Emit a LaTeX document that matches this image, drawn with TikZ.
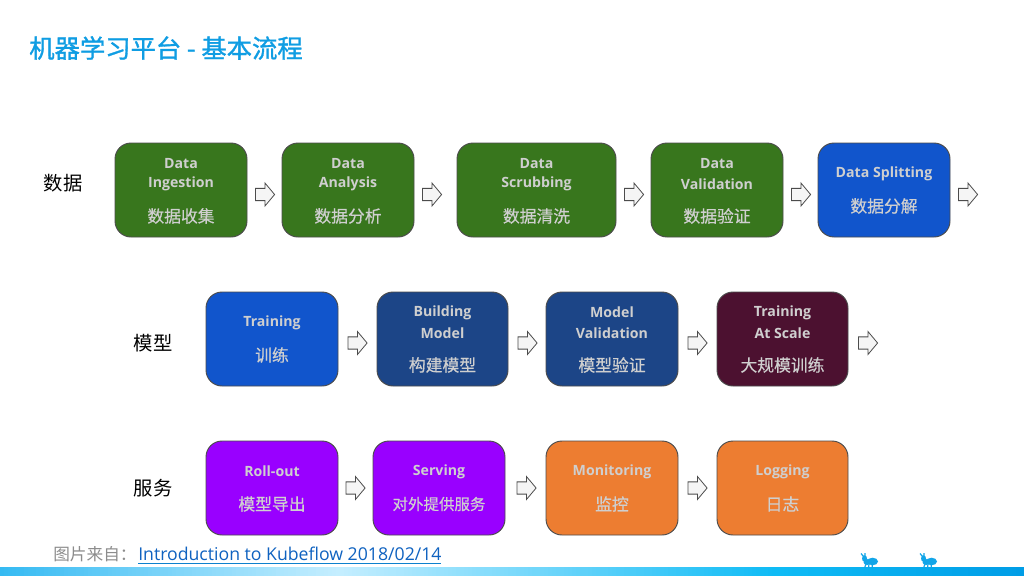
\documentclass[tikz,border=0pt]{standalone}
\usepackage{fontspec}
\setmainfont{Open Sans}
\newfontfamily\cjk{Noto Sans CJK SC}
\newfontfamily\cjkm[FakeBold=0.5]{Noto Sans CJK SC}
\newfontfamily\cjkt[FakeBold=1.2]{Noto Sans CJK SC}
\usetikzlibrary{shapes.arrows}
\definecolor{cgreen}{HTML}{38761D}
\definecolor{cblue}{HTML}{1155CC}
\definecolor{cnavy}{HTML}{1C4587}
\definecolor{cmaroon}{HTML}{4C1130}
\definecolor{cpurple}{HTML}{9900FF}
\definecolor{corange}{HTML}{ED7D31}
\definecolor{ctext}{HTML}{CFCFCF}
\definecolor{ctitle}{HTML}{0F9DE3}
\definecolor{clink}{HTML}{0F62C0}
\definecolor{cant}{HTML}{12A5E8}
\definecolor{bara}{HTML}{35BAF2}
\definecolor{barb}{HTML}{C4EEFF}
\definecolor{barc}{HTML}{0FBBF5}
\definecolor{bard}{HTML}{009DE6}
\tikzset{
  x=0.75pt,y=-0.75pt,
  boxnode/.style={draw=black!70,line width=0.7pt,rounded corners=12pt,inner sep=0pt,minimum height=70.5pt},
  entext/.style={text=ctext,font=\fontsize{10.6pt}{12pt}\selectfont\bfseries,inner sep=0pt,anchor=center},
  cntext/.style={text=ctext,font=\fontsize{12.6pt}{14pt}\selectfont\cjkm,inner sep=0pt,anchor=center},
  smallcn/.style={font=\fontsize{11.6pt}{14pt}\selectfont\cjkm},
  rowlabel/.style={text=black,font=\fontsize{14.5pt}{16pt}\selectfont\cjk,inner sep=0pt,anchor=center},
  blockarrow/.style={shape=single arrow,draw=black!70,fill=black!4,line width=0.6pt,inner sep=0pt,
    text height=8.6pt,text depth=0pt,text width=0pt,xshift=-1.5pt,
    minimum height=14.3pt,single arrow head extend=4pt,single arrow tip angle=100,shape border rotate=0}
}
% name, x1, x2, y1, colour, line 1, line 2, chinese
\newcommand{\twobox}[8]{%
  \node[boxnode,fill=#5,minimum width={(#3-#2)*0.75pt}] (#1) at ({(#2+#3)/2},{#4+47}) {};
  \node[entext] (#1a) at ({(#2+#3)/2},{#4+20.5}) {#6};
  \node[entext] (#1b) at ({(#2+#3)/2},{#4+41}) {#7};
  \node[cntext] (#1c) at ({(#2+#3)/2},{#4+73}) {#8};
}
\newcommand{\onebox}[8][]{%
  \node[boxnode,fill=#6,minimum width={(#4-#3)*0.75pt}] (#2) at ({(#3+#4)/2},{#5+47}) {};
  \node[entext] (#2a) at ({(#3+#4)/2},{#5+30.5}) {#7};
  \node[cntext,#1] (#2c) at ({(#3+#4)/2},{#5+63}) {#8};
}
\begin{document}
\begin{tikzpicture}
\useasboundingbox (0,0) rectangle (1024,576);
\fill[white] (0,0) rectangle (1024,576);
\node[anchor=west,inner sep=0pt,text=ctitle,font=\fontsize{19pt}{20pt}\selectfont\cjkt] (title) at (29,48) {机器学习平台 - 基本流程};

\node[rowlabel] (l1) at (63,183.5) {数据};
\node[rowlabel] (l2) at (153,343) {模型};
\node[rowlabel] (l3) at (153,488) {服务};

\twobox{a}{115}{247}{143}{cgreen}{Data}{Ingestion}{数据收集}
\twobox{b}{282}{414}{143}{cgreen}{Data}{Analysis}{数据分析}
\twobox{c}{457}{616}{143}{cgreen}{Data}{Scrubbing}{数据清洗}
\twobox{d}{651}{783}{143}{cgreen}{Data}{Validation}{数据验证}
\onebox{e}{818}{950}{143}{cblue}{Data Splitting}{数据分解}

\onebox{f}{206}{338}{292}{cblue}{Training}{训练}
\twobox{g}{377}{508}{292}{cnavy}{Building}{Model}{构建模型}
\twobox{h}{546}{678}{292}{cnavy}{Model}{Validation}{模型验证}
\twobox{i}{717}{848}{292}{cmaroon}{Training}{At Scale}{大规模训练}

\onebox{j}{206}{338}{441}{cpurple}{Roll-out}{模型导出}
\onebox[smallcn]{k}{373}{505}{441}{cpurple}{Serving}{对外提供服务}
\onebox{m}{546}{678}{441}{corange}{Monitoring}{监控}
\onebox{n}{717}{848}{441}{corange}{Logging}{日志}

\node[blockarrow] (ar1) at (264.5,194.5) {};
\node[blockarrow] (ar2) at (431.5,194.5) {};
\node[blockarrow] (ar3) at (633.5,194.5) {};
\node[blockarrow] (ar4) at (800.5,194.5) {};
\node[blockarrow] (ar5) at (967.5,194.5) {};
\node[blockarrow] (ar6) at (357,343) {};
\node[blockarrow] (ar7) at (527,343) {};
\node[blockarrow] (ar8) at (697,343) {};
\node[blockarrow] (ar9) at (867.5,343) {};
\node[blockarrow] (ar10) at (355,488) {};
\node[blockarrow] (ar11) at (526,488) {};
\node[blockarrow] (ar12) at (697,488) {};

\node[anchor=west,inner sep=0pt,text=black!45,font=\fontsize{12.5pt}{14pt}\selectfont\cjk] (src) at (53,554) {图片来自：};
\node[anchor=west,inner sep=0pt,text=clink,font=\fontsize{13.25pt}{14pt}\selectfont] (lnk) at (138,554) {Introduction to Kubeflow 2018/02/14};
\draw[clink!80!cyan,line width=0.9pt] (138,563.5) -- (441,563.5);

% bottom band, drawn as thin slices
\foreach \i in {0,...,84}{
  \pgfmathtruncatemacro{\p}{100-\i*100/84}
  \fill[bara!\p!barb] (\i*4,567) rectangle ({\i*4+5},576);
}
\foreach \i in {0,...,109}{
  \pgfmathtruncatemacro{\p}{100-\i*100/109}
  \fill[barb!\p!barc] (340+\i*4,567) rectangle ({340+\i*4+5},576);
}
\foreach \i in {0,...,60}{
  \pgfmathtruncatemacro{\p}{100-\i*100/60}
  \fill[barc!\p!bard] (780+\i*4,567) rectangle ({780+\i*4+5},576);
}

% ants
\foreach \ax in {860,919}{
  \fill[cant] (\ax+12.5,561.5) ellipse [x radius=5.5,y radius=3.8];
  \fill[cant] (\ax+7,562) ellipse [x radius=3.5,y radius=3];
  \fill[cant] (\ax+4.5,558.5) ellipse [x radius=2.5,y radius=3.2];
  \draw[cant,line width=0.9pt] (\ax+4,557) -- (\ax+1,553.5) (\ax+5,556) -- (\ax+5,553)
    (\ax+6,564) -- (\ax+4.5,568) (\ax+9,564) -- (\ax+8.5,568) (\ax+12,564) -- (\ax+12.5,568);
}
\end{tikzpicture}
\end{document}
